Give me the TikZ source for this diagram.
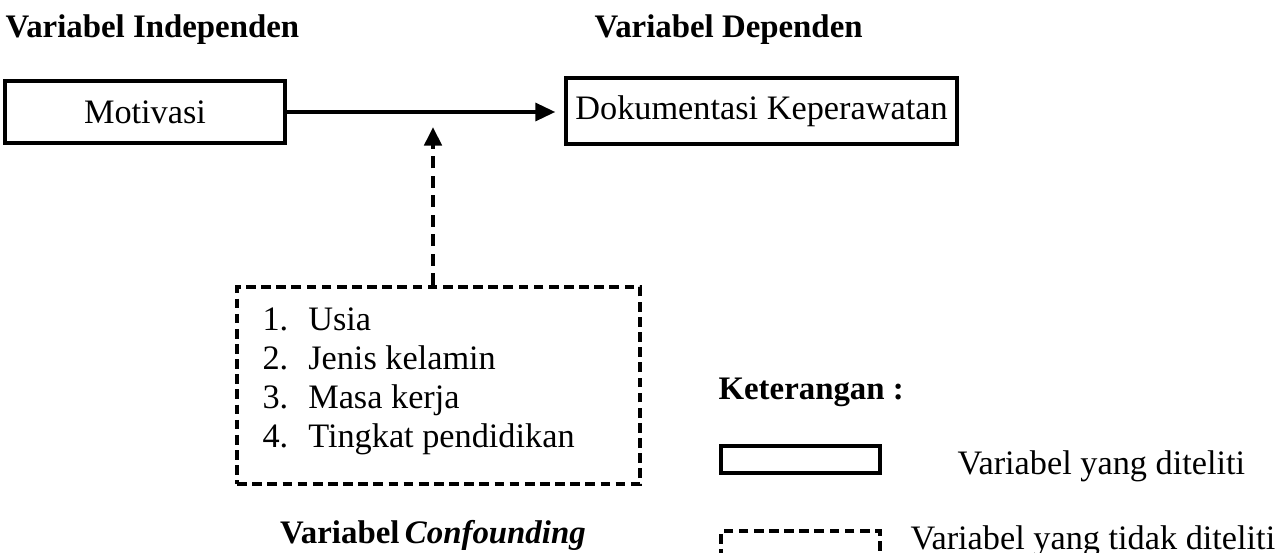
\documentclass[tikz,border=0pt]{standalone}
\usepackage{fontspec}
\setmainfont{Liberation Serif}
\usepackage{tikz}
\usetikzlibrary{arrows.meta,positioning}
\newcommand{\txtsize}{\fontsize{12}{13.65}\selectfont}
\newcommand{\headsize}{\fontsize{11.5}{13.65}\selectfont}

\begin{document}
\begin{tikzpicture}[
  var/.style={draw,line width=1.4pt,inner sep=0pt,
              align=center,font=\txtsize},
  notvar/.style={draw,line width=1.4pt,inner sep=0pt,
                 dash pattern=on 3.4pt off 1.9pt},
  title/.style={font=\headsize\bfseries,inner sep=0pt},
  lbl/.style={font=\txtsize,inner sep=0pt},
  arr/.style={-{Triangle[length=7pt,width=6.2pt]},line width=1.4pt,
              shorten >=3pt},
  dasharr/.style={-{Triangle[length=6.5pt,width=6pt]},line width=1.4pt,
                  dash pattern=on 4.2pt off 2.6pt},
  x=0.35pt,y=-0.35pt
]
\useasboundingbox (0,0) rectangle (1283,553);
% Headings
\node[title,anchor=west] (indep) at (5,30)   {Variabel Independen};
\node[title,anchor=west] (dep)   at (594,30) {Variabel Dependen};
% Variables under study
\node[var,minimum width=98pt,minimum height=21.4pt]    (mot) at (145,112) {Motivasi};
\node[var,minimum width=136.9pt,minimum height=22.8pt] (dok) at (761.5,111) {Dokumentasi Keperawatan};
% Confounding variables
\node[notvar,minimum width=141pt,minimum height=69pt] (conf) at (438.5,385.5) {};
\node[lbl,anchor=west] (list) at (262,381) {%
  \begin{tabular}{@{}l@{\hspace{7pt}}l@{}}
    1. & Usia\\
    2. & Jenis kelamin\\
    3. & Masa kerja\\
    4. & Tingkat pendidikan
  \end{tabular}};
\node[title] (conftitle) at (433,535) {Variabel\,\textit{Confounding}};
\coordinate (hit) at (433,127);

\draw[arr] (mot.east) -- (mot.east -| dok.west);
\draw[dasharr] (conf.north -| hit) -- (hit);

% Legend
\node[title,anchor=west] (ket) at (718,392) {Keterangan :};
\node[var,minimum width=55.7pt,minimum height=9.5pt] (legsolid) at (800.5,459.5) {};
\node[notvar,minimum width=55.7pt,minimum height=9.5pt] (legdash) at (800.5,544.5) {};
\node[lbl,anchor=west] (legsolidtxt) at (957,466) {Variabel yang diteliti};
\node[lbl,anchor=west] (legdashtxt)  at (910,541) {Variabel yang tidak diteliti};
\end{tikzpicture}
\end{document}
